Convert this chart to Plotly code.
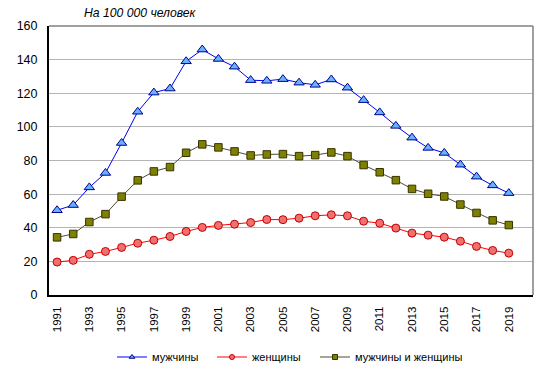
import plotly.graph_objects as go

years = list(range(1991, 2020))
men = [50.4, 53.5, 64.0, 72.6, 90.4, 109.0, 120.4, 122.8, 139.0, 146.0,
       140.4, 135.8, 127.8, 127.4, 128.4, 126.3, 125.0, 128.2, 123.3, 115.9,
       108.6, 100.6, 93.6, 87.5, 84.5, 77.5, 70.4, 65.2, 60.6]
women = [19.6, 20.6, 24.2, 25.9, 28.3, 30.8, 32.6, 34.8, 37.8, 40.2,
         41.4, 42.1, 43.1, 44.9, 44.8, 45.7, 47.1, 47.7, 47.1, 43.9,
         42.7, 39.8, 36.8, 35.6, 34.4, 32.0, 28.9, 26.5, 24.9]
both = [34.3, 36.3, 43.4, 48.1, 58.5, 68.2, 73.5, 76.1, 84.6, 89.6,
        87.8, 85.4, 83.0, 83.6, 83.8, 82.6, 83.2, 84.8, 82.6, 77.3,
        73.0, 68.3, 63.1, 60.2, 58.6, 53.8, 48.8, 44.4, 41.6]
names = ["мужчины", "женщины", "мужчины и женщины"]
y_ticks = [0, 20, 40, 60, 80, 100, 120, 140, 160]
x_ticks = list(range(1991, 2020, 2))

FONT = "Liberation Sans, Arial, sans-serif"

styles = [
    dict(line="#0000ff", fill="#66b2ff", edge="#00008b", symbol="triangle-up", size=9, data=men),
    dict(line="#ff0000", fill="#f07070", edge="#c00000", symbol="circle", size=8, data=women),
    dict(line="#4d4d33", fill="#808000", edge="#333300", symbol="square", size=7.5, data=both),
]
legend_ids = ["legend", "legend2", "legend3"]
legend_px = [112, 212, 315]

fig = go.Figure()
for name, st in zip(names, styles):
    fig.add_trace(go.Scatter(
        x=years, y=st["data"], mode="lines+markers", showlegend=False,
        line=dict(color=st["line"], width=1),
        marker=dict(symbol=st["symbol"], size=st["size"], color=st["fill"],
                    line=dict(color=st["edge"], width=1)),
    ))
for name, st, lid in zip(names, styles, legend_ids):
    fig.add_trace(go.Scatter(
        x=[None], y=[None], mode="lines+markers", name=name, legend=lid,
        line=dict(color=st["line"], width=1),
        marker=dict(symbol=st["symbol"], size=5, color=st["fill"],
                    line=dict(color=st["edge"], width=1)),
    ))

legend_common = dict(orientation="h", xanchor="left", y=(295 - 357) / 269,
                     yanchor="middle", font=dict(size=11), bgcolor="rgba(0,0,0,0)")

fig.update_layout(
    width=546, height=373,
    margin=dict(l=49, r=13, t=26, b=78, autoexpand=False),
    paper_bgcolor="white", plot_bgcolor="white",
    font=dict(family=FONT, size=12, color="black"),
    xaxis=dict(range=[1990.5, 2020.5], tickmode="array", tickvals=x_ticks,
               ticktext=[str(v) for v in x_ticks], tickangle=-90,
               showgrid=False, zeroline=False, showline=True, automargin=False,
               linecolor="black", linewidth=2, ticks="", ticklabelstandoff=5,
               tickfont=dict(size=11.5)),
    yaxis=dict(range=[0, 160], tickmode="array", tickvals=y_ticks,
               showgrid=True, gridcolor="#b4b4b4", gridwidth=1, automargin=False,
               zeroline=False, showline=True, linecolor="black", linewidth=2,
               ticks="", ticklabelstandoff=7, tickfont=dict(size=12.5)),
    legend=dict(x=(legend_px[0] - 49) / 484, **legend_common),
    legend2=dict(x=(legend_px[1] - 49) / 484, **legend_common),
    legend3=dict(x=(legend_px[2] - 49) / 484, **legend_common),
    shapes=[
        dict(type="line", xref="paper", yref="paper", x0=0, x1=1, y0=1, y1=1,
             line=dict(color="#808080", width=1.5)),
        dict(type="line", xref="paper", yref="paper", x0=1, x1=1, y0=0, y1=1,
             line=dict(color="#808080", width=1.5)),
    ],
    annotations=[dict(text="<i>На 100 000 человек</i>", xref="paper", yref="paper",
                      x=(82 - 49) / 484, y=1, xanchor="left", yanchor="bottom",
                      yshift=4, showarrow=False, font=dict(size=12.2))],
)

fig.write_html("out.html", config={"displayModeBar": False},
               post_script="document.body.style.margin='0';")
